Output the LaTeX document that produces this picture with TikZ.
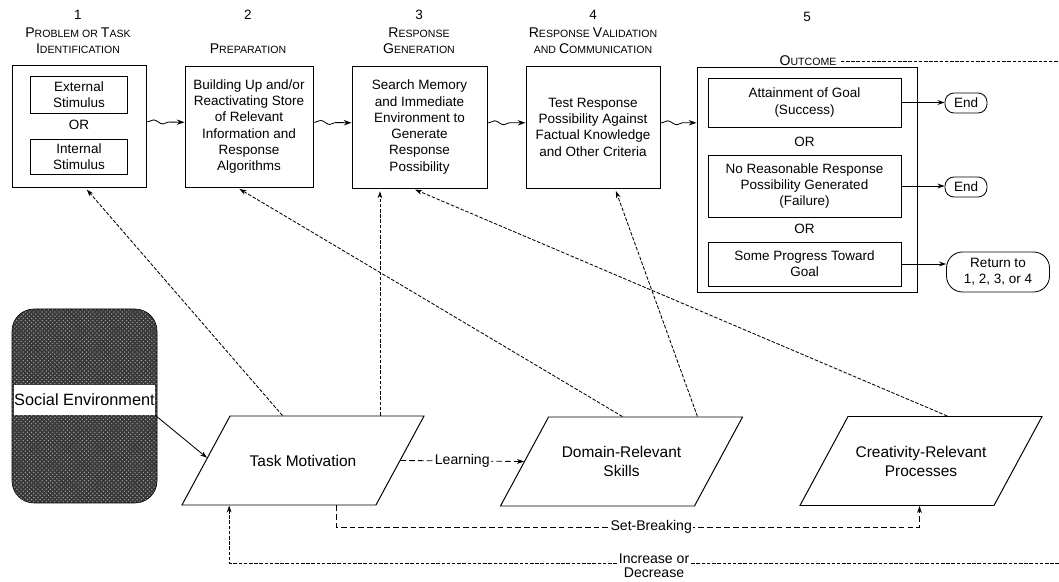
\documentclass[tikz,border=0pt]{standalone}
\usepackage{fontspec}
\setmainfont{Liberation Sans}
\usetikzlibrary{arrows.meta, calc, positioning, decorations.pathmorphing, patterns}

\newdimen\unitpx \unitpx=0.025cm
% small-caps look for the stage titles
\newcommand{\hd}[2]{#1{\fontsize{7.5}{11.4}\selectfont\MakeUppercase{#2}}}

\begin{document}
\begin{tikzpicture}[x=0.025cm, y=-0.025cm,
    >={Stealth[length=5pt,width=3.4pt]},
    every node/.style={font=\fontsize{9.6}{11.6}\selectfont, inner sep=0pt},
    title/.style={align=center, font=\fontsize{10}{11.4}\selectfont},
    stagebox/.style={draw, line width=0.7pt, align=center},
    choice/.style={draw, line width=0.6pt, align=center},
    endcap/.style={draw, line width=0.6pt, align=center},
    factor/.style={draw, line width=0.7pt, xslant=0.54, minimum width=194\unitpx, minimum height=89\unitpx},
    factorlbl/.style={align=center, font=\fontsize{11}{13.5}\selectfont},
    link/.style={->, line width=0.6pt, dash pattern=on 2.5pt off 1.2pt, shorten >=2pt},
    longlink/.style={->, line width=0.6pt, dash pattern=on 4pt off 2.2pt},
    wavy/.style={-{Stealth[length=5.5pt,width=3.8pt]}, line width=0.6pt, decorate,
        decoration={snake, amplitude=1.4pt, segment length=13pt, pre length=1pt, post length=6pt}},
    lbl/.style={fill=white, inner sep=1pt, font=\fontsize{10}{10}\selectfont}]

    \useasboundingbox (0,0) rectangle (1059,582);

    % Stage titles
    \node (n1) at (78,15) {1};
    \node[title] (t1) at (78,41) {\hd{P}{roblem or }\hd{T}{ask}\\\hd{I}{dentification}};
    \node (n2) at (248,15) {2};
    \node[title] (t2) at (248,49) {\hd{P}{reparation}};
    \node (n3) at (419,15) {3};
    \node[title] (t3) at (419,41) {\hd{R}{esponse}\\\hd{G}{eneration}};
    \node (n4) at (593,15) {4};
    \node[title] (t4) at (593,41) {\hd{R}{esponse }\hd{V}{alidation}\\\hd{}{and }\hd{C}{ommunication}};
    \node (n5) at (807,17) {5};
    \node[title] (t5) at (808,61) {\hd{O}{utcome}};
    \coordinate (outR) at (1059,61);
    \draw[line width=0.6pt, dash pattern=on 2.5pt off 1.2pt] ([xshift=3pt]t5.east) -- (outR);

    % Stage boxes
    \node[stagebox, minimum width=134\unitpx, minimum height=122\unitpx] (b1) at (79,126) {};
    \node[choice, minimum width=97\unitpx, minimum height=37\unitpx] (ext) at (79,95) {External\\Stimulus};
    \node (or1) at (79,125) {OR};
    \node[choice, minimum width=97\unitpx, minimum height=35\unitpx] (int) at (79,157) {Internal\\Stimulus};

    \node[stagebox, minimum width=128\unitpx, minimum height=121\unitpx] (b2) at (249,126.5)
        {Building Up and/or\\Reactivating Store\\of Relevant\\Information and\\Response\\Algorithms};
    \node[stagebox, minimum width=135\unitpx, minimum height=122\unitpx] (b3) at (419.5,127)
        {Search Memory\\and Immediate\\Environment to\\Generate\\Response\\Possibility};
    \node[stagebox, minimum width=134\unitpx, minimum height=122\unitpx] (b4) at (593,127)
        {Test Response\\Possibility Against\\Factual Knowledge\\and Other Criteria};

    \node[stagebox, minimum width=220\unitpx, minimum height=225\unitpx] (b5) at (807,179.5) {};
    \node[choice, minimum width=193\unitpx, minimum height=49\unitpx] (att) at (804.5,102.5) {Attainment of Goal\\(Success)};
    \node (or2) at (804.5,142) {OR};
    \node[choice, minimum width=193\unitpx, minimum height=62\unitpx] (nores) at (804.5,186) {No Reasonable Response\\Possibility Generated\\(Failure)};
    \node (or3) at (804.5,229) {OR};
    \node[choice, minimum width=193\unitpx, minimum height=44\unitpx] (some) at (804.5,264) {Some Progress Toward\\Goal};

    % Outcomes
    \node[endcap, rounded corners=9\unitpx, minimum width=42\unitpx, minimum height=20\unitpx] (end1) at (966,103) {End};
    \node[endcap, rounded corners=9\unitpx, minimum width=42\unitpx, minimum height=20\unitpx] (end2) at (966,187) {End};
    \node[endcap, rounded corners=16\unitpx, minimum width=103\unitpx, minimum height=40\unitpx] (ret) at (998,272) {Return to\\1, 2, 3, or 4};
    \draw[->, line width=0.6pt] (att.east) -- (att.east -| end1.west);
    \draw[->, line width=0.6pt] (nores.east) -- (nores.east -| end2.west);
    \draw[->, line width=0.6pt] (some.east) -- (some.east -| ret.west);

    % Wavy flow between stages
    \draw[wavy] ([yshift=3pt]b1.east) -- ([yshift=3pt]b2.west);
    \draw[wavy] ([yshift=3pt]b2.east) -- ([yshift=3pt]b3.west);
    \draw[wavy] ([yshift=3pt]b3.east) -- ([yshift=3pt]b4.west);
    \draw[wavy] ([yshift=3pt]b4.east) -- ([yshift=3pt]b4.east -| b5.west);

    % Components
    \node[draw, rounded corners=22\unitpx, minimum width=145\unitpx, minimum height=194\unitpx,
        preaction={fill=black!78}, pattern=crosshatch dots, pattern color=black!35] (soc) at (84.5,406) {};
    \node[fill=white, minimum width=141\unitpx, minimum height=30\unitpx, font=\fontsize{11.6}{13}\selectfont] (sband) at (84.5,400) {Social Environment};

    \node[factor] (tm) at (303,460.5) {};
    \node[factorlbl] (tmlbl) at (tm.center) {Task Motivation};
    \node[factor] (drs) at (621.5,461.5) {};
    \node[factorlbl] (drslbl) at (drs.center) {Domain-Relevant\\Skills};
    \node[factor] (crp) at (921,461) {};
    \node[factorlbl] (crplbl) at (crp.center) {Creativity-Relevant\\Processes};

    \draw[->, line width=0.6pt] (sband.south east) -- ($(tm.south west)!0.53!(tm.north west)$);

    % Influences on the stages
    \draw[link] ($(tm.north west)!0.27!(tm.north east)$) -- ([xshift=6\unitpx]b1.south);
    \draw[link] ($(drs.north west)!0.38!(drs.north east)$) -- ([xshift=-12\unitpx]b2.south);
    \coordinate (tmup) at ($(tm.north west)!0.77!(tm.north east)$);
    \draw[link] (tmup) -- (tmup |- b3.south);
    \draw[link] ($(crp.north west)!0.51!(crp.north east)$) -- ([xshift=-7\unitpx]b3.south);
    \draw[link] ($(drs.north west)!0.765!(drs.north east)$) -- ([xshift=22\unitpx]b4.south);

    % Links between components
    \draw[longlink] (tm.east) -- node[lbl] {Learning} (drs.west);
    \coordinate (sbrow) at (0,527);
    \coordinate (sbfrom) at ($(tm.south west)!0.795!(tm.south east)$);
    \coordinate (sbto) at ($(crp.south west)!0.617!(crp.south east)$);
    \draw[longlink] (sbfrom) -- (sbfrom |- sbrow) -| node[lbl, pos=0.27] {Set-Breaking} (sbto);
    \coordinate (incR) at (1059,563);
    \coordinate (incE) at ($(tm.south west)!0.246!(tm.south east)$);
    \draw[link, shorten >=0pt] (incR) -| node[lbl, pos=0.244, align=center, yshift=-2pt] {Increase or\\Decrease} (incE);
\end{tikzpicture}
\end{document}
